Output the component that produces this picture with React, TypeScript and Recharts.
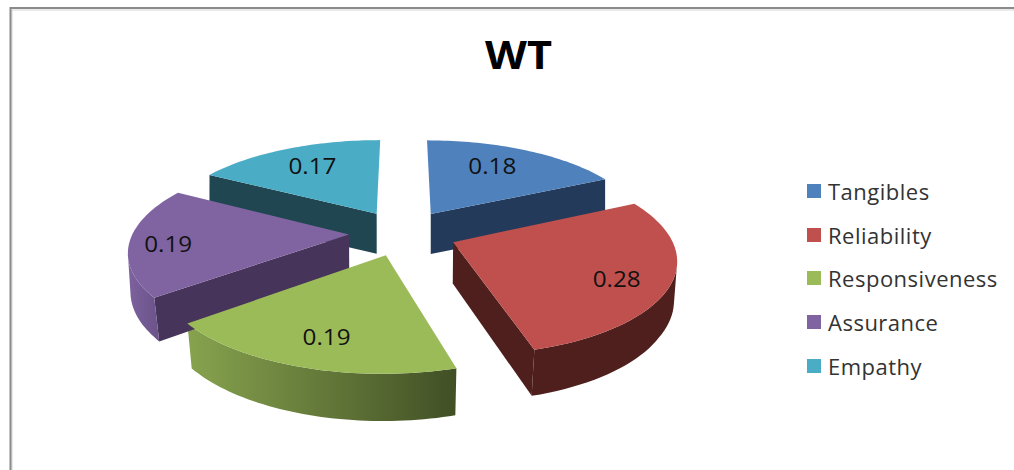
import React from "react";
import { Legend, Pie, PieChart } from "recharts";

const categories = ["Tangibles", "Reliability", "Responsiveness", "Assurance", "Empathy"];
const scores = [0.18, 0.28, 0.19, 0.19, 0.17];
const faceColors = ["#4f81bd", "#c0504d", "#9bbb59", "#8064a2", "#4bacc6"];
const wallColors = ["#243a5a", "#4e1f1d", "#4a5a2a", "#47345a", "#1f4651"];
const rimStart = ["#243a5a", "#4e1f1d", "#87a34e", "#7d629f", "#1f4651"];
const rimEnd = ["#243a5a", "#4e1f1d", "#414f25", "#6b5289", "#1f4651"];
const labelReach = [0.715, 0.776, 0.753, 0.824, 0.719];
const labelTurn = [-4, 3.4, -0.6, -1.7, 1.2];

const rows = categories.map((name, i) => ({
  name,
  value: scores[i],
  fill: faceColors[i],
  slot: i,
}));

// Walls are painted starting from the Empathy slice, which sits furthest back.
const wallRows = [rows[4], ...rows.slice(0, 4)];
const total = scores.reduce((a, b) => a + b, 0);
const wallStart = 90 + (scores[4] / total) * 360;

const WIDTH = 1014;
const HEIGHT = 470;
const CX = 403;
const CY = 232.7;
const RADIUS = 216;
const TILT = 0.422;
const EXPLODE = 0.25;
const PERSPECTIVE_X = 0.16;
const PERSPECTIVE_Y = 0.162;

type Pt = { x: number; y: number };

const rad = (d: number) => (d * Math.PI) / 180;

// Projects a point of the unit disc onto the tilted pie's top plane.
function project(u: number, v: number): Pt {
  return {
    x: CX + (RADIUS * u) / (1 + PERSPECTIVE_X * v),
    y: CY - (RADIUS * TILT * v) / (1 + PERSPECTIVE_Y * v),
  };
}

// The same point on the underside of the pie; nearer parts converge a little more.
function drop(p: Pt): Pt {
  const nearness = Math.min(1, Math.max(0, (p.y - 214) / 80));
  return {
    x: CX + (p.x - CX) * (1 - 0.02 * nearness),
    y: p.y + 40 + Math.max(0, p.y - 214) * 0.045,
  };
}

function faceGeometry(startAngle: number, endAngle: number) {
  const mid = rad((startAngle + endAngle) / 2);
  const ox = Math.cos(mid) * EXPLODE;
  const oy = Math.sin(mid) * EXPLODE;
  const apex = project(ox, oy);
  const arc: Pt[] = [];
  const steps = 48;
  for (let i = 0; i <= steps; i++) {
    const a = rad(startAngle + ((endAngle - startAngle) * i) / steps);
    arc.push(project(ox + Math.cos(a), oy + Math.sin(a)));
  }
  return { apex, arc };
}

const toPath = (pts: Pt[]) =>
  pts.map((p, i) => `${i ? "L" : "M"}${p.x.toFixed(2)} ${p.y.toFixed(2)}`).join(" ") + " Z";

// An edge shows its side when extruding it downward moves away from the slice's top.
function facesViewer(from: Pt, to: Pt, inner: Pt) {
  const dx = to.x - from.x;
  const dy = to.y - from.y;
  const inside = dx * (inner.y - from.y) - dy * (inner.x - from.x);
  return dx * inside < 0;
}

function wallShows(apex: Pt, edge: Pt, inner: Pt) {
  return Math.abs(edge.x - apex.x) >= 10 && facesViewer(apex, edge, inner);
}

// Keeps the stretch of the arc whose outer side faces the viewer.
function visibleArc(arc: Pt[], apex: Pt) {
  const kept: Pt[] = [];
  for (let i = 0; i < arc.length - 1; i++) {
    if (!facesViewer(arc[i], arc[i + 1], apex)) continue;
    if (!kept.length) kept.push(arc[i]);
    kept.push(arc[i + 1]);
  }
  return kept;
}

function WallShape(props: any) {
  const { startAngle, endAngle, slot } = props;
  const { apex, arc } = faceGeometry(startAngle, endAngle);
  const first = arc[0];
  const last = arc[arc.length - 1];
  const inner = arc[Math.floor(arc.length / 2)];
  const wall = wallColors[slot];
  const front = visibleArc(arc, apex);
  const rim = [...front, ...front.map(drop).reverse()];
  return (
    <g>
      <defs>
        <linearGradient id={`rim-${slot}`} x1="0" y1="0" x2="1" y2="0">
          <stop offset="0" stopColor={rimStart[slot]} />
          <stop offset="1" stopColor={rimEnd[slot]} />
        </linearGradient>
      </defs>
      {wallShows(apex, first, inner) && (
        <path d={toPath([apex, first, drop(first), drop(apex)])} fill={wall} />
      )}
      {wallShows(apex, last, inner) && (
        <path d={toPath([apex, last, drop(last), drop(apex)])} fill={wall} />
      )}
      {rim.length > 0 && <path d={toPath(rim)} fill={`url(#rim-${slot})`} />}
    </g>
  );
}

function FaceShape(props: any) {
  const { startAngle, endAngle, fill } = props;
  const { apex, arc } = faceGeometry(startAngle, endAngle);
  return <path d={toPath([apex, ...arc])} fill={fill} />;
}

function renderValue(props: any) {
  const { midAngle, index, value } = props;
  const off = rad(midAngle);
  const a = rad(midAngle - labelTurn[index]);
  const r = labelReach[index];
  const p = project(
    Math.cos(off) * EXPLODE + Math.cos(a) * r,
    Math.sin(off) * EXPLODE + Math.sin(a) * r,
  );
  return (
    <text
      x={p.x}
      y={p.y}
      textAnchor="middle"
      dominantBaseline="central"
      fontFamily="Open Sans"
      fontSize={22}
      textLength={48}
      lengthAdjust="spacingAndGlyphs"
      fill="#111"
    >
      {Number(value).toFixed(2)}
    </text>
  );
}

function LegendList() {
  return (
    <div style={{ fontFamily: "Open Sans", fontSize: 22, letterSpacing: 0.5, color: "#333" }}>
      {categories.map((name, i) => (
        <div key={name} style={{ display: "flex", alignItems: "center", height: 43.7 }}>
          <span style={{ width: 14, height: 14, background: faceColors[i], marginRight: 7 }} />
          <span>{name}</span>
        </div>
      ))}
    </div>
  );
}

export default function App() {
  return (
    <div style={{ position: "absolute", left: 0, top: 0, width: WIDTH, height: HEIGHT, background: "#fff" }}>
      <PieChart width={WIDTH} height={HEIGHT} margin={{ top: 0, right: 0, bottom: 0, left: 0 }}>
        <path d={`M12 ${HEIGHT} V10 H${WIDTH}`} fill="none" stroke="#d4d4d4" strokeWidth={1} />
        <path d={`M10.5 ${HEIGHT} V8 H${WIDTH}`} fill="none" stroke="#8a8a8a" strokeWidth={2} />
        <text
          x={518.5}
          y={53}
          textAnchor="middle"
          dominantBaseline="central"
          fontFamily="Open Sans"
          fontWeight={700}
          fontSize={40}
          textLength={67}
          lengthAdjust="spacingAndGlyphs"
          fill="#000"
        >
          WT
        </text>
        <Pie
          data={wallRows}
          dataKey="value"
          nameKey="name"
          cx={CX}
          cy={CY}
          outerRadius={RADIUS}
          startAngle={wallStart}
          endAngle={wallStart - 360}
          stroke="none"
          legendType="none"
          shape={WallShape}
          isAnimationActive={false}
        />
        <Pie
          data={rows}
          dataKey="value"
          nameKey="name"
          cx={CX}
          cy={CY}
          outerRadius={RADIUS}
          startAngle={90}
          endAngle={-270}
          stroke="none"
          shape={FaceShape}
          label={renderValue}
          labelLine={false}
          isAnimationActive={false}
        />
        <Legend
          layout="vertical"
          align="left"
          verticalAlign="top"
          wrapperStyle={{ left: 807, top: 169, width: 207 }}
          content={<LegendList />}
        />
      </PieChart>
    </div>
  );
}
